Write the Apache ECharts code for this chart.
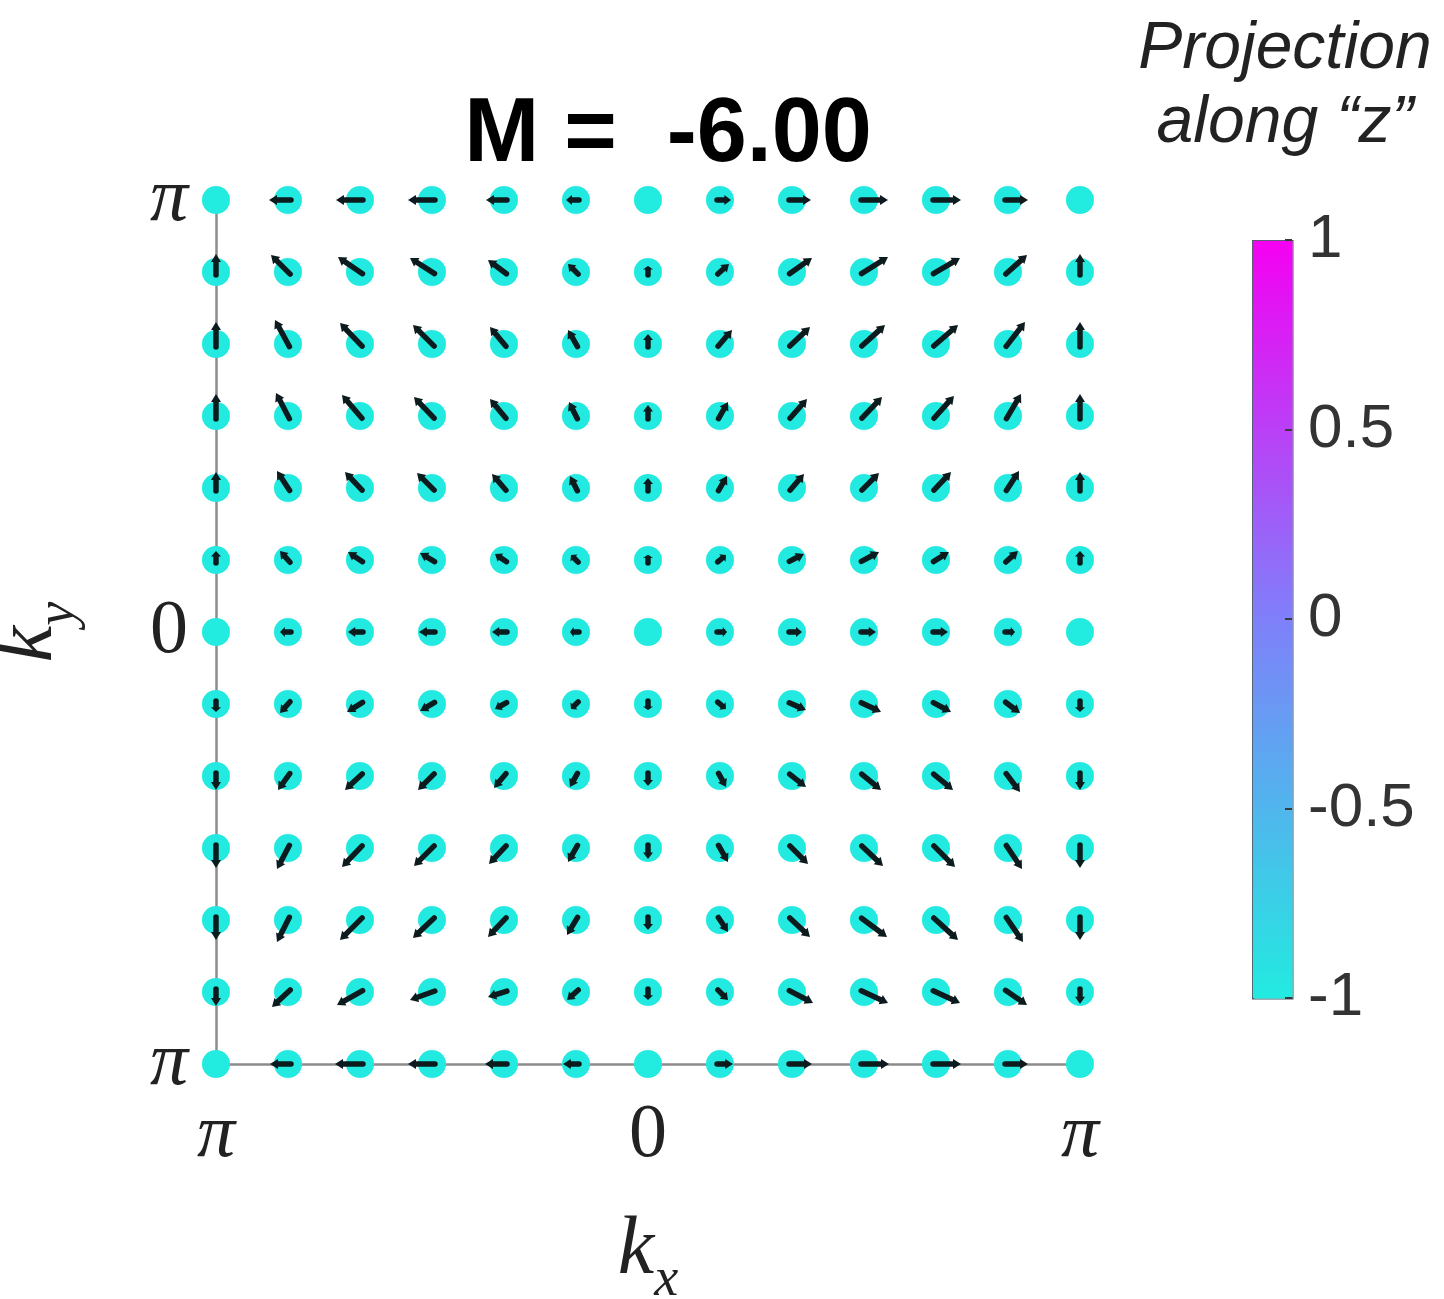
<!DOCTYPE html>
<html>
<head>
<meta charset="utf-8">
<script src="https://cdn.jsdelivr.net/npm/echarts@6/dist/echarts.min.js"></script>
<style>html,body{margin:0;padding:0;background:#fff;}#c{width:1444px;height:1299px;}</style>
</head>
<body>
<div id="c"></div>
<script>
// ---- DATA ----
const kxValues = [-3.1416, -2.618, -2.0944, -1.5708, -1.0472, -0.5236, 0, 0.5236, 1.0472, 1.5708, 2.0944, 2.618, 3.1416];
const kyValues = [3.1416, 2.618, 2.0944, 1.5708, 1.0472, 0.5236, 0, -0.5236, -1.0472, -1.5708, -2.0944, -2.618, -3.1416]; // rows, top to bottom
const axisTickLabels = ['π', '0', 'π'];
const colorbarTicks = [-1, -0.5, 0, 0.5, 1];
const titleText = 'M =  -6.00';
const colorbarTitle = 'Projection\nalong “z”';

// in-plane projection (arbitrary quiver units), rows top (ky=π) to bottom (ky=-π)
const spinX = [
  [0,-19,-24,-24,-18,-10,0,11,19,24,25,20,0],
  [0,-17,-22,-22,-16,-8,0,9,20,24,24,19,0],
  [0,-13,-20,-19,-14,-8,0,12,18,21,22,17,0],
  [0,-12,-18,-18,-14,-7,0,8,15,18,18,13,0],
  [0,-11,-15,-15,-12,-6,0,7,12,15,15,11,0],
  [0,-8,-12,-12,-9,-5,0,6,12,15,13,10,0],
  [0,-8,-12,-13,-12,-6,0,7,10,12,12,7,0],
  [0,-8,-13,-12,-9,-5,0,6,14,17,15,12,0],
  [0,-10,-15,-14,-10,-6,0,6,14,17,17,12,0],
  [0,-11,-18,-18,-15,-8,0,8,16,19,19,14,0],
  [0,-11,-20,-19,-16,-9,0,8,18,23,22,15,0],
  [0,-16,-23,-22,-16,-9,0,8,21,24,24,19,0],
  [0,-18,-25,-24,-19,-13,0,13,20,25,25,20,0]
];
const spinY = [
  [0,0,0,0,0,0,0,0,0,0,0,0,0],
  [18,17,15,14,12,8,6,8,14,15,14,17,18],
  [22,24,21,19,17,14,10,14,17,19,19,22,22],
  [22,23,21,19,17,14,11,14,17,19,20,22,22],
  [16,17,16,15,14,12,10,12,14,15,16,17,16],
  [9,9,8,7,6,5,5,5,6,8,8,9,9],
  [0,0,0,0,0,0,0,0,0,0,0,0,0],
  [-8,-9,-8,-7,-5,-5,-6,-5,-6,-8,-8,-9,-8],
  [-14,-14,-14,-14,-12,-11,-10,-11,-11,-14,-14,-16,-14],
  [-20,-21,-19,-18,-16,-14,-11,-14,-16,-18,-19,-21,-20],
  [-20,-22,-20,-18,-17,-15,-10,-12,-17,-17,-20,-22,-20],
  [-14,-15,-13,-8,-5,-8,-8,-8,-11,-11,-11,-13,-12],
  [0,0,0,0,0,0,0,0,0,0,0,0,0]
];
// projection along z
const zProj = [
  [-1,-0.99,-0.99,-0.99,-0.99,-0.99,-1,-0.99,-0.99,-0.99,-0.99,-0.99,-1],
  [-0.99,-0.99,-0.99,-0.99,-0.99,-0.99,-0.99,-0.99,-0.99,-0.99,-0.99,-0.99,-0.99],
  [-0.99,-0.99,-0.99,-0.99,-0.99,-0.99,-0.99,-0.99,-0.99,-0.99,-0.99,-0.99,-0.99],
  [-0.99,-0.99,-0.99,-0.99,-0.99,-0.99,-0.99,-0.99,-0.99,-0.99,-0.99,-0.99,-0.99],
  [-0.99,-0.99,-0.99,-0.99,-0.99,-0.99,-0.99,-0.99,-0.99,-0.99,-0.99,-0.99,-0.99],
  [-0.99,-0.99,-0.99,-0.99,-0.99,-0.99,-0.99,-0.99,-0.99,-0.99,-0.99,-0.99,-0.99],
  [-1,-0.99,-0.99,-0.99,-0.99,-0.99,-1,-0.99,-0.99,-0.99,-0.99,-0.99,-1],
  [-0.99,-0.99,-0.99,-0.99,-0.99,-0.99,-0.99,-0.99,-0.99,-0.99,-0.99,-0.99,-0.99],
  [-0.99,-0.99,-0.99,-0.99,-0.99,-0.99,-0.99,-0.99,-0.99,-0.99,-0.99,-0.99,-0.99],
  [-0.99,-0.99,-0.99,-0.99,-0.99,-0.99,-0.99,-0.99,-0.99,-0.99,-0.99,-0.99,-0.99],
  [-0.99,-0.99,-0.99,-0.99,-0.99,-0.99,-0.99,-0.99,-0.99,-0.99,-0.99,-0.99,-0.99],
  [-0.99,-0.99,-0.99,-0.99,-0.99,-0.99,-0.99,-0.99,-0.99,-0.99,-0.99,-0.99,-0.99],
  [-1,-0.99,-0.99,-0.99,-0.99,-0.99,-1,-0.99,-0.99,-0.99,-0.99,-0.99,-1]
];

// ---- BUILD ----
const dotData = [];
const arrowData = [];
for (let r = 0; r < kyValues.length; r++) {
  for (let c = 0; c < kxValues.length; c++) {
    dotData.push([kxValues[c], kyValues[r], zProj[r][c]]);
    arrowData.push([kxValues[c], kyValues[r], spinX[r][c], spinY[r][c]]);
  }
}
const quiverScale = 6.2832 / 864; // data units per quiver unit
const serif = '"Liberation Serif", "DejaVu Serif", serif';
const sans = '"Liberation Sans", Arial, sans-serif';

function tickLabel(v) {
  const i = Math.round(v / 3.1416) + 1;
  const t = axisTickLabels[i];
  if (t === undefined) return '';
  return t === 'π' ? '{pi|' + t + '}' : t;
}
const labelRich = {pi: {fontFamily: serif, fontStyle: 'italic', fontSize: 76, color: '#222'}};

const chart = echarts.init(document.getElementById('c'), null, {renderer: 'canvas'});
chart.setOption({
  backgroundColor: '#ffffff',
  animation: false,
  title: [
    {text: titleText, left: 663, top: 86, textAlign: 'center',
     textStyle: {fontFamily: sans, fontWeight: 'bold', fontSize: 90, color: '#000'}},
    {text: colorbarTitle, left: 1280, top: 8, textAlign: 'center',
     textStyle: {fontFamily: sans, fontStyle: 'italic', fontWeight: 'normal', fontSize: 66, lineHeight: 74, color: '#222'}}
  ],
  grid: [
    {left: 216, top: 200, width: 864, height: 864, containLabel: false, outerBoundsMode: 'none'},
    {left: 1252, top: 240, width: 40, height: 758, containLabel: false, outerBoundsMode: 'none'}
  ],
  xAxis: [
    {type: 'value', gridIndex: 0, min: -3.1416, max: 3.1416, interval: 3.1416,
     axisLine: {show: true, onZero: false, lineStyle: {color: '#8c8c8c', width: 2.5}},
     axisTick: {show: false}, splitLine: {show: false},
     axisLabel: {formatter: tickLabel, rich: labelRich, fontFamily: serif, fontSize: 76, color: '#222', margin: 34},
     name: '{k|k}{s|x}', nameLocation: 'middle', nameGap: 146,
     nameTextStyle: {rich: {
       k: {fontFamily: serif, fontStyle: 'italic', fontSize: 82, color: '#222', verticalAlign: 'bottom', padding: [0, 0, 16, 0]},
       s: {fontFamily: serif, fontStyle: 'italic', fontSize: 54, color: '#222', verticalAlign: 'bottom'}
     }}},
    {type: 'value', gridIndex: 1, min: 0, max: 1, show: false}
  ],
  yAxis: [
    {type: 'value', gridIndex: 0, min: -3.1416, max: 3.1416, interval: 3.1416,
     axisLine: {show: true, onZero: false, lineStyle: {color: '#8c8c8c', width: 2.5}},
     axisTick: {show: false}, splitLine: {show: false},
     axisLabel: {formatter: tickLabel, rich: labelRich, fontFamily: serif, fontSize: 76, color: '#222', margin: 28},
     name: '{k|k}{s|y}', nameLocation: 'middle', nameGap: 130,
     nameTextStyle: {rich: {
       k: {fontFamily: serif, fontStyle: 'italic', fontSize: 82, color: '#222', verticalAlign: 'bottom', padding: [0, 0, 16, 0]},
       s: {fontFamily: serif, fontStyle: 'italic', fontSize: 54, color: '#222', verticalAlign: 'bottom'}
     }}},
    {type: 'value', gridIndex: 1, min: -1, max: 1, interval: 0.5, position: 'right', z: 20,
     axisLine: {show: false, onZero: false}, splitLine: {show: false},
     axisTick: {show: true, inside: true, length: 7, lineStyle: {color: '#3a3a3a', width: 2}},
     axisLabel: {fontFamily: sans, fontSize: 62, color: '#333', margin: 16,
       formatter: v => { const t = colorbarTicks.find(x => Math.abs(x - v) < 1e-6); return t === undefined ? '' : String(t); }}}
  ],
  visualMap: {
    type: 'continuous', min: -1, max: 1, dimension: 2, seriesIndex: 0,
    calculable: false, realtime: false, show: true, z: 2,
    left: 1252, top: 240, itemWidth: 40, itemHeight: 758, padding: 0,
    text: null, showLabel: false,
    borderColor: '#4a5a66', borderWidth: 1.5,
    inRange: {color: ['#22ebe0', '#7f80fa', '#f500f2']}
  },
  series: [
    {type: 'scatter', xAxisIndex: 0, yAxisIndex: 0, data: dotData, symbol: 'circle', symbolSize: 28, clip: false, z: 2,
     itemStyle: {opacity: 1}},
    {type: 'custom', xAxisIndex: 0, yAxisIndex: 0, data: arrowData, z: 3, clip: false,
     renderItem: function (params, api) {
       const x = api.value(0), y = api.value(1), u = api.value(2), v = api.value(3);
       const p0 = api.coord([x, y]);
       const p1 = api.coord([x + u * quiverScale, y + v * quiverScale]);
       const dx = p1[0] - p0[0], dy = p1[1] - p0[1];
       const len = Math.hypot(dx, dy);
       if (len < 1) return null;
       const ux = dx / len, uy = dy / len;
       const head = Math.min(8, len * 0.6), hw = 5;
       const bx = p1[0] - ux * head, by = p1[1] - uy * head;
       const color = '#0c1c1e';
       return {type: 'group', children: [
         {type: 'line', shape: {x1: p0[0] - ux * 3, y1: p0[1] - uy * 3, x2: bx, y2: by},
          style: {stroke: color, lineWidth: 5.5, lineCap: 'round'}},
         {type: 'polygon', shape: {points: [[p1[0], p1[1]], [bx - uy * hw, by + ux * hw], [bx + uy * hw, by - ux * hw]]},
          style: {fill: color}}
       ]};
     }}
  ]
});
</script>
</body>
</html>
